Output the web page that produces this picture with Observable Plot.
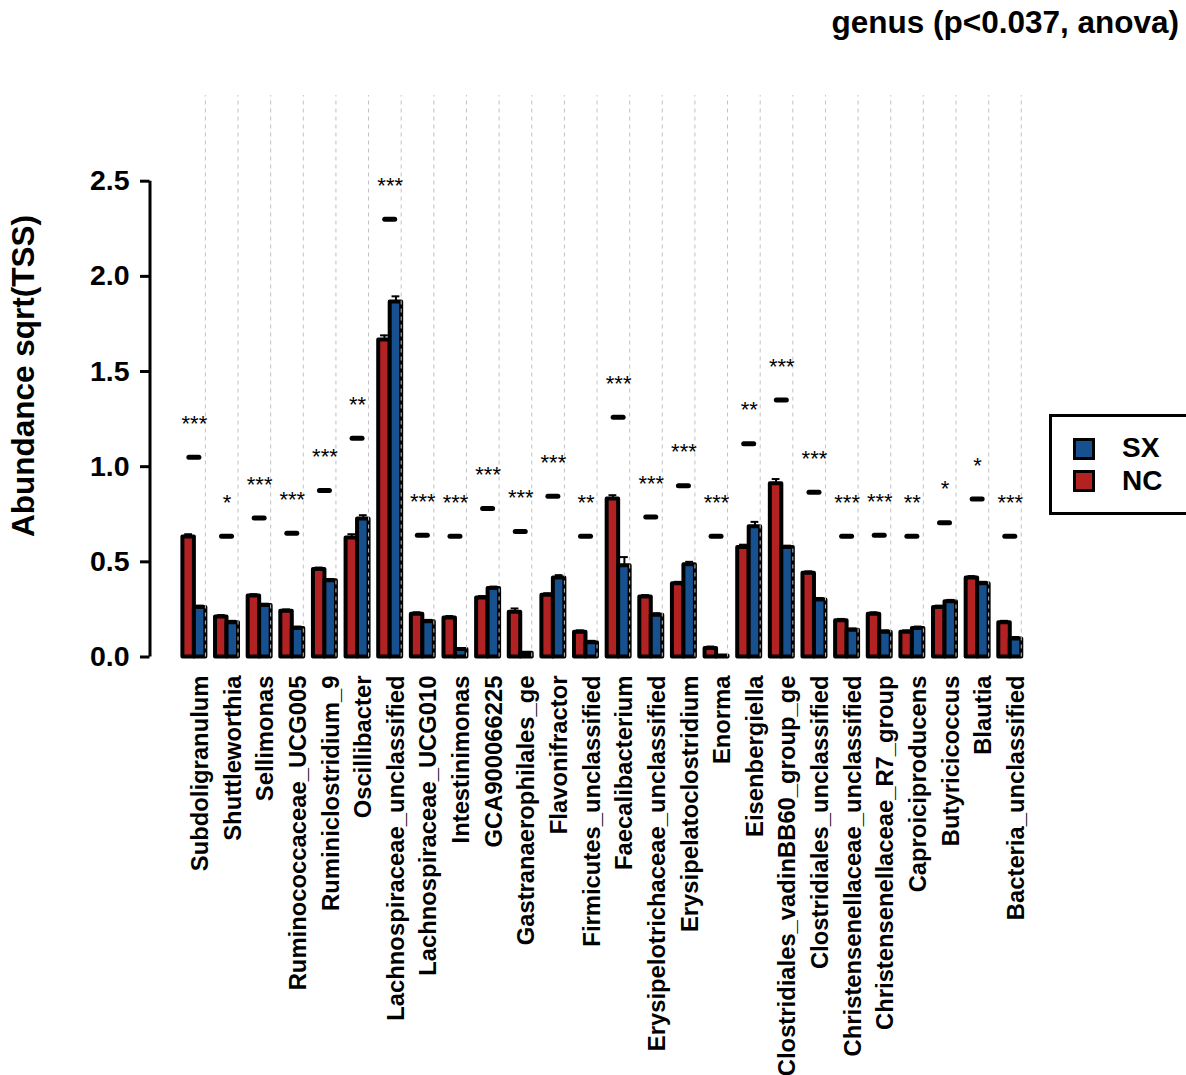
<!DOCTYPE html>
<html><head><meta charset="utf-8">
<script src="https://cdn.jsdelivr.net/npm/d3@7"></script>
<script src="https://cdn.jsdelivr.net/npm/@observablehq/plot@0.6"></script>
<style>
body{margin:0;background:#fff;font-family:"Liberation Sans",Arial,Helvetica,sans-serif;}
#wrap{position:relative;width:1186px;height:1075px;overflow:hidden;background:#fff;}
#chart{position:absolute;left:0;top:0;}
.t{position:absolute;font-weight:bold;white-space:nowrap;line-height:1;color:#000;}
#title{right:7px;top:7px;font-size:31.5px;}
#ytitle{left:24px;top:376px;font-size:31.5px;transform:translate(-50%,-50%) rotate(-90deg);}
#legend{position:absolute;left:1049px;top:414px;width:160px;height:101px;border:3px solid #000;box-sizing:border-box;background:#fff;}
.sw{position:absolute;width:22px;height:22px;border:3px solid #000;box-sizing:border-box;}
.lt{position:absolute;font-size:28px;font-weight:bold;line-height:1;}
</style></head><body>
<div id="wrap">
<div id="chart"></div>
<div id="title" class="t">genus (p&lt;0.037, anova)</div>
<div id="ytitle" class="t">Abundance sqrt(TSS)</div>
<div id="legend"></div>
</div>
<script>
const categories = ["Subdoligranulum","Shuttleworthia","Sellimonas","Ruminococcaceae_UCG005","Ruminiclostridium_9","Oscillibacter","Lachnospiraceae_unclassified","Lachnospiraceae_UCG010","Intestinimonas","GCA900066225","Gastranaerophilales_ge","Flavonifractor","Firmicutes_unclassified","Faecalibacterium","Erysipelotrichaceae_unclassified","Erysipelatoclostridium","Enorma","Eisenbergiella","Clostridiales_vadinBB60_group_ge","Clostridiales_unclassified","Christensenellaceae_unclassified","Christensenellaceae_R7_group","Caproiciproducens","Butyricicoccus","Blautia","Bacteria_unclassified"];
const groups = ["NC","SX"];
const ncValues = [0.63,0.21,0.32,0.24,0.46,0.625,1.665,0.225,0.205,0.31,0.235,0.325,0.13,0.83,0.315,0.385,0.045,0.575,0.91,0.44,0.19,0.225,0.13,0.26,0.415,0.18];
const sxValues = [0.26,0.18,0.27,0.15,0.40,0.725,1.865,0.185,0.04,0.36,0.02,0.415,0.075,0.48,0.22,0.485,0.005,0.685,0.575,0.30,0.14,0.13,0.15,0.29,0.385,0.095];
const ncErr = [0.015,0.01,0.01,0.01,0.01,0.02,0.025,0.01,0.01,0.01,0.02,0.01,0.01,0.02,0.01,0.01,0.01,0.015,0.025,0.01,0.01,0.01,0.01,0.01,0.01,0.01];
const sxErr = [0.01,0.01,0.01,0.01,0.01,0.02,0.03,0.01,0.005,0.01,0.005,0.015,0.01,0.045,0.01,0.015,0.003,0.025,0.01,0.01,0.01,0.01,0.01,0.01,0.01,0.01];
const sigLevel = [1.05,0.635,0.73,0.65,0.875,1.15,2.30,0.64,0.635,0.78,0.66,0.845,0.635,1.26,0.735,0.90,0.635,1.12,1.35,0.865,0.635,0.64,0.635,0.705,0.83,0.635];
const sigStars = ["***","*","***","***","***","**","***","***","***","***","***","***","**","***","***","***","***","**","***","***","***","***","**","*","*","***"];
const yTicks = [0,0.5,1.0,1.5,2.0,2.5];
const groupColors = ["#B22222","#17508F"];
const legendOrder = ["SX","NC"];

const xDomain = [-1.36, 25.5];
const hw = 0.352;      // half group width (in category units)
const off = 0.176;     // bar center offset
const font = "Liberation Sans, Arial, Helvetica, sans-serif";

const rows = categories.flatMap((c, i) => [
  {i, cat: c, group: "NC", value: ncValues[i], err: ncErr[i]},
  {i, cat: c, group: "SX", value: sxValues[i], err: sxErr[i]}
]);
const sig = categories.map((c, i) => ({i, cat: c, level: sigLevel[i], stars: sigStars[i]}));
const ctr = d => d.group === "NC" ? d.i - off : d.i + off;

const chart = Plot.plot({
  width: 1186, height: 1075,
  marginLeft: 149.5, marginRight: 159.9, marginTop: 180.7, marginBottom: 418.5,
  style: {fontFamily: font, background: "transparent"},
  x: {domain: xDomain, axis: null},
  y: {domain: [0, 2.5]},
  color: {domain: groups, range: groupColors},
  marks: [
    Plot.ruleX(rows, {x: ctr, y1: "value", y2: d => d.value + d.err, stroke: "black", strokeWidth: 2}),
    Plot.ruleY(rows, {y: d => d.value + d.err, x1: d => ctr(d) - 0.12, x2: d => ctr(d) + 0.12, stroke: "black", strokeWidth: 2}),
    Plot.rect(rows, {
      x1: d => d.group === "NC" ? d.i - hw : d.i,
      x2: d => d.group === "NC" ? d.i : d.i + hw,
      y1: 0, y2: "value", fill: "group", stroke: "black", strokeWidth: 4, strokeLinejoin: "round"
    }),
    Plot.ruleX(categories, {x: (d, i) => i + 0.337, y1: 0, y2: 2.95, stroke: "#c0c0c0", strokeWidth: 1, strokeDasharray: "4,4"}),
    Plot.ruleY(sig, {y: "level", x1: d => d.i - 0.153, x2: d => d.i + 0.153, stroke: "black", strokeWidth: 5, strokeLinecap: "round"}),
    Plot.text(sig, {x: "i", y: "level", text: "stars", dy: -33.5, fontSize: 22, fill: "black"}),
    Plot.ruleX([xDomain[0]], {y1: 0, y2: 2.5, stroke: "black", strokeWidth: 3}),
    Plot.axisY(yTicks, {anchor: "left", tickSize: 9.5, tickPadding: 11, tickFormat: d3.format(".1f"), fontSize: 28.5, fontWeight: "bold", strokeWidth: 3, fill: "black", label: null}),
    Plot.text(categories, {x: (d, i) => i, y: 0, text: d => d, rotate: -90, textAnchor: "end", dy: 18.5, dx: 6, fontSize: 23.8, fontWeight: "bold", fill: "black"})
  ]
});
document.getElementById("chart").appendChild(chart);

// legend
const lg = document.getElementById("legend");
legendOrder.forEach((g, k) => {
  const sw = document.createElement("div");
  sw.className = "sw";
  sw.style.left = "21px";
  sw.style.top = (21 + k * 32) + "px";
  sw.style.background = groupColors[groups.indexOf(g)];
  lg.appendChild(sw);
  const t = document.createElement("div");
  t.className = "lt";
  t.textContent = g;
  t.style.left = "70px";
  t.style.top = (31 + k * 33 - 14) + "px";
  lg.appendChild(t);
});
</script>
</body></html>
